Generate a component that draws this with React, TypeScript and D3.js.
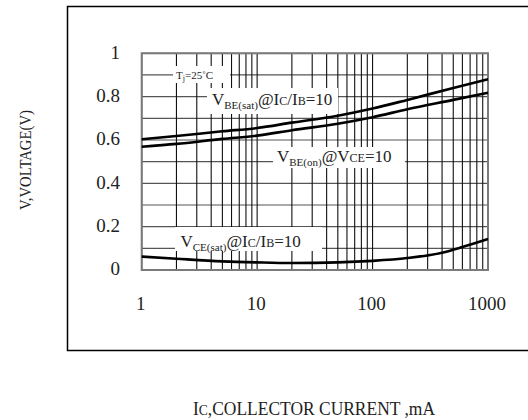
import React from "react";
import * as d3 from "d3";

const xTickValues = [1, 10, 100, 1000];
const xTickLabels = ["1", "10", "100", "1000"];
const yTickValues = [0, 0.2, 0.4, 0.6, 0.8, 1];
const yTickLabels = ["0", "0.2", "0.4", "0.6", "0.8", "1"];

const vbeSatI = [1, 2, 5, 10, 20, 50, 100, 200, 500, 1000];
const vbeSatV = [0.603, 0.618, 0.64, 0.655, 0.68, 0.712, 0.745, 0.785, 0.84, 0.88];
const vbeOnI = [1, 2, 5, 10, 20, 50, 100, 200, 500, 1000];
const vbeOnV = [0.569, 0.582, 0.605, 0.62, 0.645, 0.675, 0.705, 0.742, 0.785, 0.818];
const vceSatI = [1, 2, 5, 10, 20, 50, 100, 200, 400, 600, 1000];
const vceSatV = [0.062, 0.052, 0.04, 0.035, 0.032, 0.035, 0.042, 0.055, 0.08, 0.106, 0.143];

const FONT = "'Liberation Serif', 'Times New Roman', serif";

export default function App() {
  const W = 528, H = 420;
  const x = d3.scaleLog().domain([1, 1000]).range([141.7, 488]);
  const y = d3.scaleLinear().domain([0, 1]).range([270, 53.3]);

  const vGrid: number[] = [];
  for (let k = 0; k < 3; k++) for (let m = 1; m < 10; m++) vGrid.push(m * Math.pow(10, k));
  vGrid.push(1000);
  const hGrid = d3.range(0, 11).map((i) => i / 10);

  const line = d3
    .line<[number, number]>()
    .x((d) => x(d[0]))
    .y((d) => y(d[1]))
    .curve(d3.curveMonotoneX);

  const series = [
    vbeSatI.map((v, i) => [v, vbeSatV[i]] as [number, number]),
    vbeOnI.map((v, i) => [v, vbeOnV[i]] as [number, number]),
    vceSatI.map((v, i) => [v, vceSatV[i]] as [number, number]),
  ];

  const big = 17;
  const sub = 11;
  const sc = 12;

  return (
    <svg
      width={W}
      height={H}
      style={{ position: "absolute", left: 0, top: 0, background: "#fff" }}
      fontFamily={FONT}
    >
      <rect x={0} y={0} width={W} height={H} fill="#fff" />
      {/* outer frame */}
      <rect x={67.5} y={6.5} width={520} height={344} fill="none" stroke="#000" strokeWidth={1.5} />

      {/* grid */}
      {hGrid.map((v, i) => (
        <line key={"h" + i} x1={x(1)} x2={x(1000)} y1={y(v)} y2={y(v)} stroke="#555" strokeWidth={1.2} />
      ))}
      {vGrid.map((v, i) => (
        <line key={"v" + i} x1={x(v)} x2={x(v)} y1={y(0)} y2={y(1)} stroke="#111" strokeWidth={1.1} />
      ))}
      <rect
        x={x(1)}
        y={y(1)}
        width={x(1000) - x(1)}
        height={y(0) - y(1)}
        fill="none"
        stroke="#7a7a7a"
        strokeWidth={2}
      />

      {/* curves */}
      {series.map((s, i) => (
        <path key={"s" + i} d={line(s) || ""} fill="none" stroke="#000" strokeWidth={2.6} />
      ))}

      {/* annotations */}
      <rect x={173} y={66} width={57} height={17} fill="#fff" />
      <text x={176} y={79} fontSize={11} fill="#222">
        <tspan>T</tspan>
        <tspan fontSize={8} dy={2}>j</tspan>
        <tspan dy={-2}>=25˚C</tspan>
      </text>

      <rect x={207} y={88} width={131} height={26} fill="#fff" />
      <text x={212} y={105} fontSize={big} fill="#222">
        <tspan>V</tspan>
        <tspan fontSize={sub} dy={4}>BE(sat)</tspan>
        <tspan dy={-4}>@I</tspan>
        <tspan fontSize={sc}>C</tspan>
        <tspan>/I</tspan>
        <tspan fontSize={sc}>B</tspan>
        <tspan>=10</tspan>
      </text>

      <rect x={273} y={147} width={132} height={21} fill="#fff" />
      <text x={277} y={161.5} fontSize={big} fill="#222">
        <tspan>V</tspan>
        <tspan fontSize={sub} dy={4}>BE(on)</tspan>
        <tspan dy={-4}>@V</tspan>
        <tspan fontSize={sc}>CE</tspan>
        <tspan>=10</tspan>
      </text>

      <rect x={175} y={227} width={147} height={24} fill="#fff" />
      <text x={180.5} y={247} fontSize={big} fill="#222">
        <tspan>V</tspan>
        <tspan fontSize={sub} dy={4}>CE(sat)</tspan>
        <tspan dy={-4}>@I</tspan>
        <tspan fontSize={sc}>C</tspan>
        <tspan>/I</tspan>
        <tspan fontSize={sc}>B</tspan>
        <tspan>=10</tspan>
      </text>

      {/* y tick labels */}
      {yTickValues.map((v, i) => (
        <text
          key={"yt" + i}
          x={120}
          y={y(v) + 1}
          fontSize={19}
          textAnchor="end"
          dominantBaseline="middle"
          fill="#222"
        >
          {yTickLabels[i]}
        </text>
      ))}
      {/* x tick labels */}
      {xTickValues.map((v, i) => (
        <text
          key={"xt" + i}
          x={x(v) - 1}
          y={306}
          fontSize={19}
          textAnchor="middle"
          dominantBaseline="middle"
          fill="#222"
        >
          {xTickLabels[i]}
        </text>
      ))}

      {/* axis titles */}
      <text x={193} y={415} fontSize={18} fill="#222" textLength={242} lengthAdjust="spacingAndGlyphs">
        <tspan>I</tspan>
        <tspan fontSize={14}>C</tspan>
        <tspan>,COLLECTOR CURRENT ,mA</tspan>
      </text>
      <text
        transform="translate(31,160) rotate(-90)"
        fontSize={16}
        textAnchor="middle"
        fill="#222"
        textLength={100}
        lengthAdjust="spacingAndGlyphs"
      >
        V,VOLTAGE(V)
      </text>
    </svg>
  );
}
